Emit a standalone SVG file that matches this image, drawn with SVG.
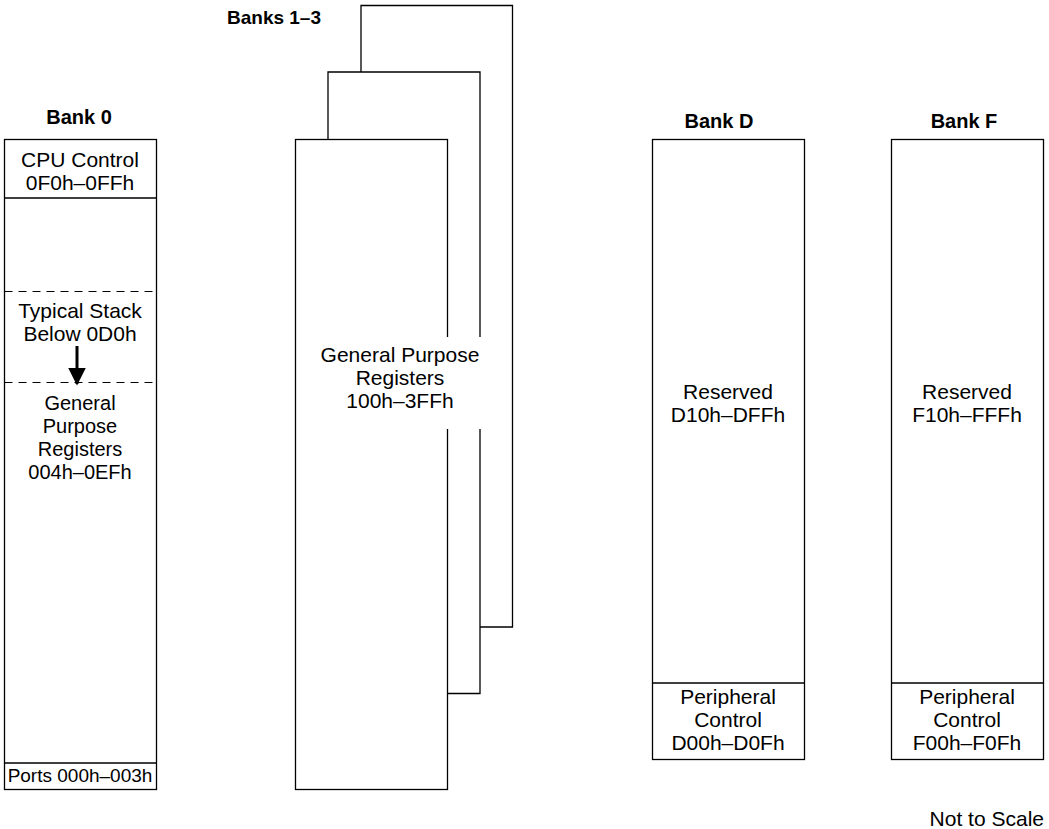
<svg xmlns="http://www.w3.org/2000/svg" width="1049" height="829" viewBox="0 0 1049 829">
<style>
.t{font-family:"Liberation Sans",Arial,sans-serif;font-size:21px;fill:#000;text-anchor:middle}
.b{font-family:"Liberation Sans",Arial,sans-serif;font-size:20px;font-weight:bold;fill:#000;text-anchor:middle}
.box{fill:#fff;stroke:#000;stroke-width:1.3}
.ln{fill:none;stroke:#000;stroke-width:1.3}
.dash{fill:none;stroke:#000;stroke-width:1;stroke-dasharray:8,6}
</style>
<defs>
<marker id="ah" markerWidth="6" markerHeight="6" refX="5.5" refY="3" orient="auto" markerUnits="strokeWidth">
<path d="M0,0 L6,3 L0,6 Z" fill="#000"/>
</marker>
</defs>
<rect width="1049" height="829" fill="#fff"/>

<g id="bank0">
<text class="b" x="79" y="124">Bank 0</text>
<rect class="box" x="4.5" y="139.5" width="152" height="650"/>
<line class="ln" x1="4.5" y1="198" x2="156.5" y2="198"/>
<text class="t" x="80" y="167">CPU Control</text>
<text class="t" x="80" y="190">0F0h–0FFh</text>
<line class="dash" x1="4.5" y1="291.5" x2="156.5" y2="291.5"/>
<line class="dash" x1="4.5" y1="382.5" x2="156.5" y2="382.5"/>
<text class="t" x="80" y="318">Typical Stack</text>
<text class="t" x="80" y="341">Below 0D0h</text>
<line x1="77" y1="346" x2="77" y2="384" stroke="#000" stroke-width="3" marker-end="url(#ah)"/>
<text class="t" x="80" y="410" style="font-size:20px">General</text>
<text class="t" x="80" y="433" style="font-size:20px">Purpose</text>
<text class="t" x="80" y="456" style="font-size:20px">Registers</text>
<text class="t" x="80" y="479" style="font-size:20px">004h–0EFh</text>
<line class="ln" x1="4.5" y1="763" x2="156.5" y2="763"/>
<text class="t" x="80" y="782" style="font-size:19px">Ports 000h–003h</text>
</g>

<g id="banks13">
<text class="b" x="274" y="24" style="font-size:19px">Banks 1–3</text>
<path class="ln" d="M361,72 V5.5 H512.5 V627 H480"/>
<path class="ln" d="M328,141 V72 H480 V693.5 H447"/>
<rect class="box" x="295.5" y="139.5" width="152" height="650"/>
<rect x="317" y="337" width="168" height="92" fill="#fff"/>
<text class="t" x="400" y="362">General Purpose</text>
<text class="t" x="400" y="385">Registers</text>
<text class="t" x="400" y="408">100h–3FFh</text>
</g>

<g id="bankD">
<text class="b" x="719" y="128">Bank D</text>
<rect class="box" x="652.5" y="139.5" width="152" height="620"/>
<line class="ln" x1="652.5" y1="683" x2="804.5" y2="683"/>
<text class="t" x="728" y="399">Reserved</text>
<text class="t" x="728" y="422">D10h–DFFh</text>
<text class="t" x="728" y="704">Peripheral</text>
<text class="t" x="728" y="727">Control</text>
<text class="t" x="728" y="750">D00h–D0Fh</text>
</g>

<g id="bankF">
<text class="b" x="964" y="128">Bank F</text>
<rect class="box" x="891.5" y="139.5" width="152" height="620"/>
<line class="ln" x1="891.5" y1="683" x2="1043.5" y2="683"/>
<text class="t" x="967" y="399">Reserved</text>
<text class="t" x="967" y="422">F10h–FFFh</text>
<text class="t" x="967" y="704">Peripheral</text>
<text class="t" x="967" y="727">Control</text>
<text class="t" x="967" y="750">F00h–F0Fh</text>
</g>

<g id="note">
<text class="t" x="1044" y="826" style="text-anchor:end">Not to Scale</text>
</g>
<g id="connectors"></g>
</svg>
